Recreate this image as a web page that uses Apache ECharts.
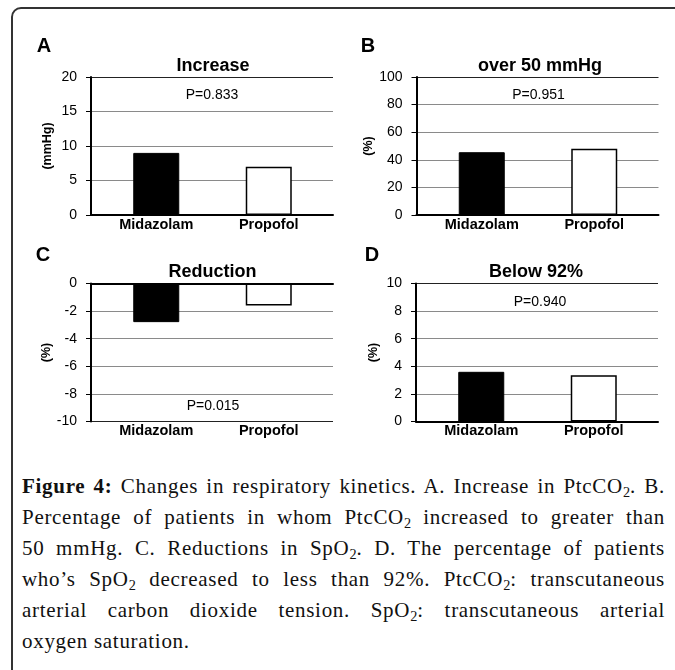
<!DOCTYPE html>
<html>
<head>
<meta charset="utf-8">
<script src="https://cdn.jsdelivr.net/npm/echarts@6/dist/echarts.min.js"></script>
<style>
  html, body { margin: 0; padding: 0; background: #fff; }
  body { width: 675px; height: 670px; position: relative; overflow: hidden; }
  #frame { position: absolute; left: 11px; top: 7px; width: 720px; height: 720px;
           border: 2px solid #333; border-top-left-radius: 10px; box-sizing: border-box; }
  #chart { position: absolute; left: 0; top: 0; width: 675px; height: 450px; }
  #cap { position: absolute; left: 22px; top: 471px; width: 643px;
         font-family: 'Liberation Serif', 'Times New Roman', serif; font-size: 21px;
         letter-spacing: 0.7px; color: #111; }
  #cap .ln { height: 31px; line-height: 31px; white-space: nowrap; text-align: justify; text-align-last: justify; }
  #cap .ln.last { text-align-last: left; }
  #cap sub { font-size: 0.68em; vertical-align: -0.3em; line-height: 0; letter-spacing: 0; }
</style>
</head>
<body>
<div id="frame"></div>
<div id="chart"></div>
<div id="cap">
  <div class="ln"><b>Figure 4:</b> Changes in respiratory kinetics. A. Increase in PtcCO<sub>2</sub>. B.</div>
  <div class="ln">Percentage of patients in whom PtcCO<sub>2</sub> increased to greater than</div>
  <div class="ln">50 mmHg. C. Reductions in SpO<sub>2</sub>. D. The percentage of patients</div>
  <div class="ln">who’s SpO<sub>2</sub> decreased to less than 92%. PtcCO<sub>2</sub>: transcutaneous</div>
  <div class="ln">arterial carbon dioxide tension. SpO<sub>2</sub>: transcutaneous arterial</div>
  <div class="ln last">oxygen saturation.</div>
</div>
<script>
// ---- data ----
const categories = ['Midazolam', 'Propofol'];
const valuesA = [9, 7];
const valuesB = [45.5, 48];
const valuesC = [-2.8, -1.6];
const valuesD = [3.6, 3.35];
// axis ranges: [min, max, interval]
const axisA = [0, 20, 5];
const axisB = [0, 100, 20];
const axisC = [-10, 0, 2];
const axisD = [0, 10, 2];
const panelTitles = ['Increase', 'over 50 mmHg', 'Reduction', 'Below 92%'];
const pLabels = ['P=0.833', 'P=0.951', 'P=0.015', 'P=0.940'];
const panelLetters = ['A', 'B', 'C', 'D'];
const yNames = ['(mmHg)', '(%)', '(%)', '(%)'];

// ---- layout ----
const FONT = "'Liberation Sans', Arial, sans-serif";
const layout = [
  { left: 91,    top: 77,    title: [213, 66],  p: [212, 95],    letter: [44, 46],  nameGap: 37 },
  { left: 416.5, top: 77,    title: [540, 66],  p: [538.5, 95],  letter: [368, 46.5], nameGap: 41 },
  { left: 91,    top: 283.5, title: [212.5, 272], p: [213, 405.7], letter: [43, 255.5], nameGap: 38 },
  { left: 416,   top: 283.5, title: [536, 272], p: [540, 301.7], letter: [372, 255], nameGap: 36 }
];
const PW = 242, PH = 138, BAR_OFF = 9, BAR_W = 225;
const allValues = [valuesA, valuesB, valuesC, valuesD];
const allAxes = [axisA, axisB, axisC, axisD];

const grid = [], xAxis = [], yAxis = [], series = [], graphic = [];

allValues.forEach((vals, i) => {
  const L = layout[i];
  const [mn, mx, iv] = allAxes[i];
  const nLines = Math.round((mx - mn) / iv) + 1;
  const splitColors = [];
  for (let k = 0; k < nLines; k++) splitColors.push(k === 0 || k === nLines - 1 ? '#222' : '#8a8a8a');

  grid.push({ left: L.left, top: L.top, width: PW, height: PH });
  grid.push({ left: L.left + BAR_OFF, top: L.top, width: BAR_W, height: PH });

  const gA = 2 * i, gB = 2 * i + 1;
  xAxis.push({
    type: 'category', gridIndex: gA, data: categories,
    axisLine: { show: true, onZero: true, lineStyle: { color: '#000', width: 2 } },
    axisTick: { show: false }, axisLabel: { show: false }, splitLine: { show: false }
  });
  xAxis.push({
    type: 'category', gridIndex: gB, data: categories, position: 'bottom',
    axisLine: { show: false, onZero: false }, axisTick: { show: false }, splitLine: { show: false },
    axisLabel: { show: true, margin: 2, color: '#000', fontFamily: FONT, fontWeight: 'bold', fontSize: 14.5 }
  });
  yAxis.push({
    type: 'value', gridIndex: gA, min: mn, max: mx, interval: iv,
    name: yNames[i], nameLocation: 'middle', nameRotate: 90, nameGap: L.nameGap,
    nameTextStyle: { color: '#000', fontFamily: FONT, fontWeight: 'bold', fontSize: 12.5 },
    axisLine: { show: true, lineStyle: { color: '#000', width: 2 } },
    axisTick: { show: true, length: 5, lineStyle: { color: '#000', width: 1 } },
    axisLabel: { margin: 14, color: '#000', fontFamily: FONT, fontSize: 14 },
    splitLine: { show: true, lineStyle: { color: splitColors, width: 1 } }
  });
  yAxis.push({
    type: 'value', gridIndex: gB, min: mn, max: mx, interval: iv, show: false,
    splitLine: { show: false }
  });
  series.push({
    type: 'bar', xAxisIndex: 2 * i + 1, yAxisIndex: 2 * i + 1, barWidth: 46,
    data: vals.map((v, k) => ({
      value: v,
      itemStyle: k === 0
        ? { color: '#000', borderColor: '#000', borderWidth: 1 }
        : { color: '#fff', borderColor: '#000', borderWidth: 1.5 }
    })),
    silent: true
  });

  graphic.push({ type: 'text', x: L.title[0], y: L.title[1],
    style: { text: panelTitles[i], fill: '#000', font: `bold 18px ${FONT}`, textAlign: 'center', textVerticalAlign: 'middle' } });
  graphic.push({ type: 'text', x: L.p[0], y: L.p[1],
    style: { text: pLabels[i], fill: '#000', font: `14px ${FONT}`, textAlign: 'center', textVerticalAlign: 'middle' } });
  graphic.push({ type: 'text', x: L.letter[0], y: L.letter[1],
    style: { text: panelLetters[i], fill: '#000', font: `bold 20px ${FONT}`, textAlign: 'center', textVerticalAlign: 'middle' } });
});

const chart = echarts.init(document.getElementById('chart'), null, { renderer: 'canvas' });
chart.setOption({
  animation: false,
  backgroundColor: 'transparent',
  grid, xAxis, yAxis, series, graphic
});
</script>
</body>
</html>
